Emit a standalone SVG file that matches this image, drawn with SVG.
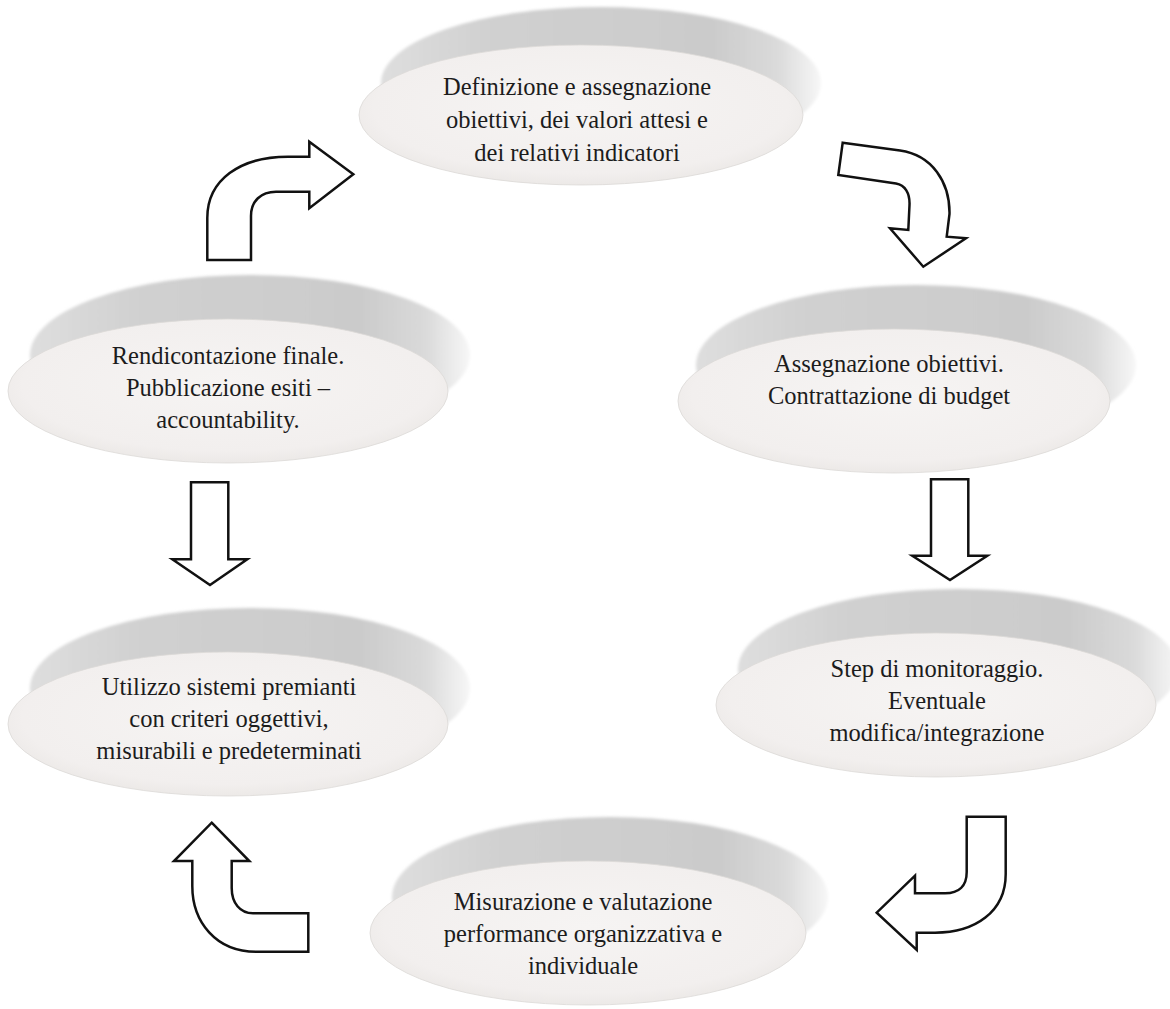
<svg xmlns="http://www.w3.org/2000/svg" width="1170" height="1009" viewBox="0 0 1170 1009">
  <defs>
    <!-- shaded side of each disc: grey band that fades out to the right -->
    <linearGradient id="rimShade" x1="0" y1="0" x2="1" y2="0">
      <stop offset="0" stop-color="#dedede"/>
      <stop offset="0.25" stop-color="#d0d0d0"/>
      <stop offset="0.75" stop-color="#cbcbcb"/>
      <stop offset="0.9" stop-color="#dadada"/>
      <stop offset="1" stop-color="#f7f7f7"/>
    </linearGradient>
    <!-- top face of each disc -->
    <radialGradient id="faceShade" cx="0.5" cy="0.45" r="0.55">
      <stop offset="0" stop-color="#f6f4f3"/>
      <stop offset="0.85" stop-color="#f2efee"/>
      <stop offset="1" stop-color="#ece9e7"/>
    </radialGradient>
    <filter id="soft" x="-5%" y="-10%" width="110%" height="120%">
      <feGaussianBlur stdDeviation="1.4"/>
    </filter>
    <filter id="softEdge" x="-5%" y="-10%" width="110%" height="120%">
      <feGaussianBlur stdDeviation="0.6"/>
    </filter>
  </defs>
  <style>
    .rim { fill: url(#rimShade); filter: url(#soft); }
    .face { fill: url(#faceShade); stroke: #dcd9d7; stroke-width: 0.8; filter: url(#softEdge); }
    .label { font-family: "Liberation Serif", "Times New Roman", serif; font-size: 24.5px; fill: #1c1c1c; text-anchor: middle; }
    .arrow { fill: #ffffff; stroke: #111111; stroke-width: 2.5; stroke-linejoin: miter; }
  </style>

  <rect width="1170" height="1009" fill="#ffffff"/>

  <!-- nodes: tilted discs (side band behind, top face in front) -->
  <g id="node-definizione" transform="translate(581,115)">
    <ellipse class="rim" cx="20" cy="-32" rx="220" ry="76"/>
    <ellipse class="face" rx="222" ry="70"/>
    <text class="label" x="-4" y="-20">Definizione e assegnazione</text>
    <text class="label" x="-4" y="13">obiettivi, dei valori attesi e</text>
    <text class="label" x="-4" y="46">dei relativi indicatori</text>
  </g>

  <g id="node-assegnazione" transform="translate(894,401)">
    <ellipse class="rim" cx="22" cy="-36" rx="220" ry="80"/>
    <ellipse class="face" rx="216" ry="72"/>
    <text class="label" x="-5" y="-29">Assegnazione obiettivi.</text>
    <text class="label" x="-5" y="3">Contrattazione di budget</text>
  </g>

  <g id="node-monitoraggio" transform="translate(936,705)">
    <ellipse class="rim" cx="22" cy="-36" rx="220" ry="80"/>
    <ellipse class="face" rx="220" ry="72"/>
    <text class="label" x="1" y="-28">Step di monitoraggio.</text>
    <text class="label" x="1" y="4">Eventuale</text>
    <text class="label" x="1" y="36">modifica/integrazione</text>
  </g>

  <g id="node-misurazione" transform="translate(588,933)">
    <ellipse class="rim" cx="22" cy="-36" rx="218" ry="80"/>
    <ellipse class="face" rx="218" ry="72"/>
    <text class="label" x="-5" y="-23">Misurazione e valutazione</text>
    <text class="label" x="-5" y="9">performance organizzativa e</text>
    <text class="label" x="-5" y="41">individuale</text>
  </g>

  <g id="node-utilizzo" transform="translate(228,724)">
    <ellipse class="rim" cx="22" cy="-36" rx="220" ry="80"/>
    <ellipse class="face" rx="220" ry="72"/>
    <text class="label" x="1" y="-29">Utilizzo sistemi premianti</text>
    <text class="label" x="1" y="3">con criteri oggettivi,</text>
    <text class="label" x="1" y="35">misurabili e predeterminati</text>
  </g>

  <g id="node-rendicontazione" transform="translate(228,391)">
    <ellipse class="rim" cx="22" cy="-36" rx="220" ry="80"/>
    <ellipse class="face" rx="220" ry="72"/>
    <text class="label" x="0" y="-27">Rendicontazione finale.</text>
    <text class="label" x="0" y="5">Pubblicazione esiti –</text>
    <text class="label" x="0" y="37">accountability.</text>
  </g>

  <!-- connectors: outlined block arrows -->
  <g id="connectors">
    <!-- Rendicontazione -> Definizione -->
    <path class="arrow" d="M207.3,260 L251,260 L251,216 C251,201 261,191.7 276,191.7 L309.3,191.7 L309.3,208.3 L353.3,174.3 L309.3,141.7 L309.3,156.7 L288,156.7 C240,156.7 207.3,180 207.3,218 Z"/>
    <!-- Definizione -> Assegnazione -->
    <path class="arrow" d="M842.7,142.7 L900,150.5 C932,155 950,182 949.5,214 L946.7,236.7 L966,238.3 L923.3,266.7 L890,228.3 L908.3,230 L909.5,205 C910,193 905,185 896,183.5 L838.3,175 Z"/>
    <!-- Assegnazione -> Step di monitoraggio -->
    <path class="arrow" d="M931,479.3 L968.3,479.3 L968.3,555.7 L987.3,555.7 L950,580 L912.3,555.7 L931,555.7 Z"/>
    <!-- Step di monitoraggio -> Misurazione -->
    <path class="arrow" d="M966.7,816.7 L1005.7,816.7 L1005.7,874 C1005.7,912 975,932.7 935,932.7 L916.7,932.7 L916.7,950 L876.7,912.7 L915,875.7 L915,893.3 L945,893.3 C959,893.3 966.7,886 966.7,872 Z"/>
    <!-- Misurazione -> Utilizzo -->
    <path class="arrow" d="M211.7,822.7 L249.3,861 L231.7,861 L231.7,888 C231.7,903 240,913.3 253,913.3 L308.3,913.3 L308.3,951.7 L256,951.7 C216,951.7 192.3,922 192.3,886 L192.3,861 L174,861 Z"/>
    <!-- Rendicontazione -> Utilizzo -->
    <path class="arrow" d="M191,482.3 L228.3,482.3 L228.3,559.3 L247.3,559.3 L210,585 L172.3,559.3 L191,559.3 Z"/>
  </g>
</svg>
